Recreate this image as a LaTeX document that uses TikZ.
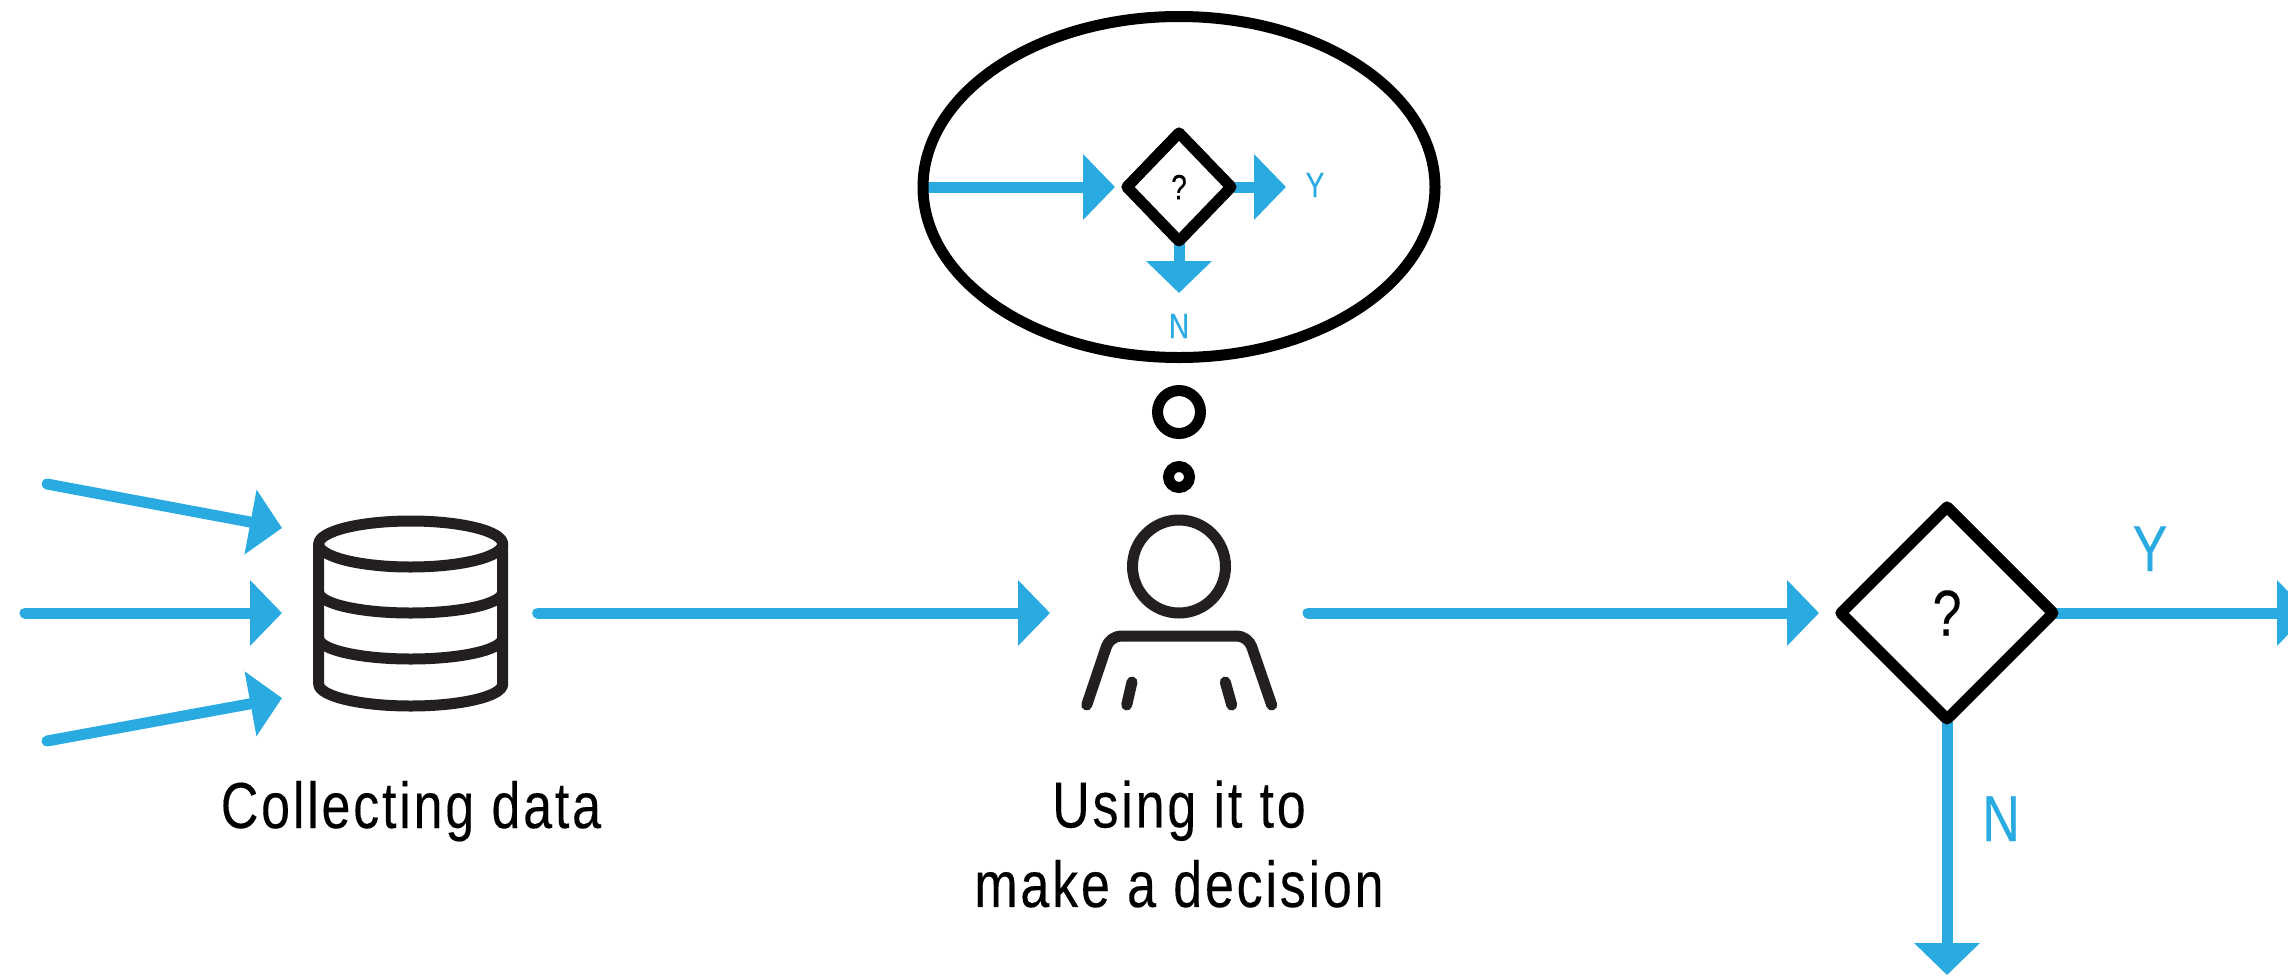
\documentclass[tikz,border=0pt]{standalone}
\usepackage{fontspec}
\usetikzlibrary{arrows.meta,shapes.geometric}
\newfontfamily\labfont[FakeStretch=0.8,LetterSpace=4.3,FakeBold=0.2]{Liberation Sans}
\definecolor{flowblue}{HTML}{29ABE2}
\definecolor{icondark}{HTML}{231F20}
\newcommand{\biglab}{\labfont\fontsize{65}{79.5}\selectfont}
\newcommand{\smalllab}{\labfont\fontsize{35}{40}\selectfont}
\tikzset{
  flow/.style={draw=flowblue,line width=11pt,line cap=round,-{Triangle[length=32pt,width=64pt]}},
  stem/.style={draw=flowblue,line width=11pt,-{Triangle[length=32pt,width=64pt]}},
  icon/.style={draw=icondark,line width=11pt,line cap=round,line join=round},
  ring/.style={circle,draw=black,line width=11pt,inner sep=0pt,outer sep=0pt},
  choice/.style={diamond,draw=black,fill=white,aspect=1,inner sep=0pt,outer sep=0pt,line join=round,line width=11pt,text=black},
  holder/.style={inner sep=0pt,outer sep=0pt,minimum width=#1,minimum height=190pt},
  biglabel/.style={font=\biglab,inner sep=0pt,outer sep=0pt},
  smalllabel/.style={font=\smalllab,inner sep=0pt,outer sep=0pt}
}
\begin{document}
\begin{tikzpicture}[x=1pt,y=-1pt]
\path[use as bounding box,clip] (0,0) rectangle (2288,975);

% named places
\node[holder=184pt] (db) at (410.7,613) {};
\node[holder=186pt] (person) at (1179,613) {};
\coordinate (src1) at (47,484);
\coordinate (src2) at (25,613);
\coordinate (src3) at (47,741);
\coordinate (dbin1) at (282,528);
\coordinate (dbin2) at (282,613);
\coordinate (dbin3) at (282,698);
\coordinate (yend) at (2309,613);
\coordinate (nend) at (1947,975);
\coordinate (ysmall) at (1286,187);
\coordinate (nsmall) at (1179,293);

% decision shapes and bubble, placed first so connectors can use them
\node[choice,minimum width=212pt,minimum height=212pt] (bigq) at (1947,613) {};
\node[choice,minimum width=104pt,minimum height=108pt] (smallq) at (1179,187) {};
\node[ellipse,inner sep=0pt,outer sep=0pt,minimum width=512pt,minimum height=341pt] (bubble) at (1179,187) {};

% connectors
\draw[flow] (src1) -- (dbin1);
\draw[flow] (src2) -- (dbin2);
\draw[flow] (src3) -- (dbin3);
\draw[flow,shorten <=35pt,shorten >=36pt] (db.east) -- (person.west);
\draw[flow,shorten <=36pt,shorten >=22pt] (person.east) -- (bigq.west);
\draw[stem] (bigq.east) -- (yend);
\draw[stem] (bigq.south) -- (nend);
\draw[stem,shorten >=12pt] (bubble.west) -- (smallq.west);
\draw[stem] (smallq.east) -- (ysmall);
\draw[stem] (smallq.south) -- (nsmall);

% thought bubble
\node[ellipse,draw=black,line width=11pt,inner sep=0pt,outer sep=0pt,minimum width=512pt,minimum height=341pt] at (bubble) {};
\node[choice,minimum width=104pt,minimum height=108pt,font=\smalllab] (smallq2) at (smallq) {?};
\node[ring,minimum size=43pt] (thought1) at (1179,412) {};
\node[ring,minimum size=21pt] (thought2) at (1179,477) {};

% big decision, drawn over its connectors
\node[choice,minimum width=212pt,minimum height=212pt,font=\biglab] (bigq2) at (bigq) {?};

% database icon
\draw[icon] (410.7,544) ellipse[x radius=92,y radius=23];
\draw[icon] (318.7,544) -- (318.7,684) arc[start angle=180,end angle=0,x radius=92,y radius=22] -- (502.7,544);
\draw[icon] (318.7,592) arc[start angle=180,end angle=0,x radius=92,y radius=21];
\draw[icon] (318.7,638) arc[start angle=180,end angle=0,x radius=92,y radius=21];

% person icon
\node[circle,draw=icondark,line width=11pt,inner sep=0pt,outer sep=0pt,minimum size=93pt] (head) at (1179,566.5) {};
\draw[icon,rounded corners=11pt] (1086.7,705) -- (1110,636) -- (1248,636) -- (1271.7,705);
\draw[icon] (1132,682) -- (1126.7,705);
\draw[icon] (1225.3,682) -- (1231.7,705);

% labels
\node[biglabel,text=black,anchor=base] (lab1) at (411,828) {Collecting data};
\node[biglabel,text=black,align=center,anchor=center] (lab2) at (1179,844) {Using it to\\make a decision};
\node[biglabel,text=flowblue,anchor=base] (laby) at (2150,571) {Y};
\node[biglabel,text=flowblue,anchor=base] (labn) at (2001,841) {N};
\node[smalllabel,text=flowblue,anchor=base] (labys) at (1315,197) {Y};
\node[smalllabel,text=flowblue,anchor=base] (labns) at (1179,338) {N};
\end{tikzpicture}
\end{document}
